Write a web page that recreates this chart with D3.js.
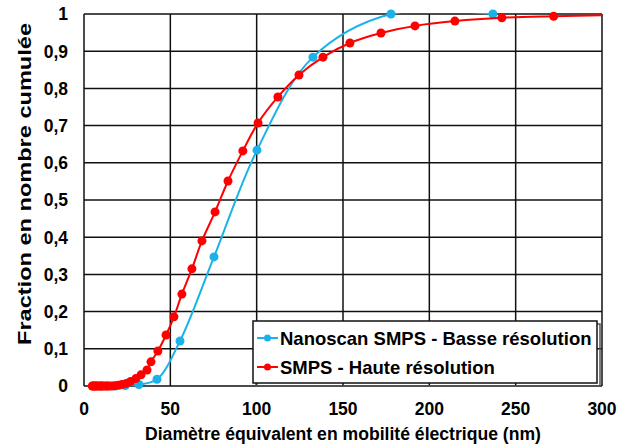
<!DOCTYPE html>
<html>
<head>
<meta charset="utf-8">
<script src="https://cdn.jsdelivr.net/npm/d3@7"></script>
<style>
  body { margin: 0; background: #fff; }
  text { font-family: "Liberation Sans", Arial, sans-serif; font-weight: bold; fill: #000; }
</style>
</head>
<body>
<div id="chart"></div>
<script>
// Nanoscan SMPS (basse résolution)
var nanoD = [10.1, 13.5, 18.0, 23.9, 31.8, 42.3, 55.6, 75.3, 100.2, 132.6, 177.8, 236.8];
var nanoF = [0, 0, 0, 0.001, 0.004, 0.018, 0.121, 0.347, 0.634, 0.884, 1.0, 1.0];

// SMPS (haute résolution)
var smpsD = [4.8, 5.3, 5.9, 6.5, 7.2, 8.0, 8.9, 9.8, 10.8, 12.0, 13.3, 14.7, 16.3, 18.0, 20.0, 22.0, 24.5, 27.0, 30.0, 33.0,
    36.5, 38.8, 42.8, 47.5, 52.1, 56.7, 62.5, 68.3, 75.9, 83.4, 92.0, 100.8, 112.3, 124.5, 138.4, 154.0, 172.0, 191.7,
    214.8, 242.0, 272.0, 305.0];
var smpsF = [0, 0, 0, 0, 0, 0, 0, 0, 0, 0, 0, 0, 0, 0.001, 0.002, 0.004, 0.007, 0.012, 0.02, 0.03,
    0.043, 0.065, 0.094, 0.137, 0.186, 0.247, 0.315, 0.39, 0.468, 0.551, 0.632, 0.707, 0.777, 0.836, 0.884, 0.922, 0.949, 0.968,
    0.981, 0.99, 0.994, 0.997];

var xTicks = [0, 50, 100, 150, 200, 250, 300];
var yTicks = [0, 0.1, 0.2, 0.3, 0.4, 0.5, 0.6, 0.7, 0.8, 0.9, 1];

var seriesNames = ["Nanoscan SMPS - Basse résolution", "SMPS - Haute résolution"];
var seriesColors = ["#1ab2e8", "#ff0000"];

var width = 617, height = 445;
var margin = {left: 84, right: 15, top: 14, bottom: 59};

var x = d3.scaleLinear().domain([0, 300]).range([margin.left, width - margin.right]);
var y = d3.scaleLinear().domain([0, 1]).range([height - margin.bottom, margin.top]);

var svg = d3.select("#chart").append("svg")
    .attr("width", width)
    .attr("height", height);

svg.append("defs").append("clipPath").attr("id", "plotclip")
    .append("rect")
    .attr("x", x(0)).attr("y", y(1) - 1)
    .attr("width", x(300) - x(0)).attr("height", y(0) - y(1) + 2);

// grid
var grid = svg.append("g").attr("stroke", "#111").attr("stroke-width", 1.5);
grid.selectAll(".vx").data(xTicks).join("line")
    .attr("x1", d => x(d)).attr("x2", d => x(d))
    .attr("y1", y(0)).attr("y2", y(1));
grid.selectAll(".hy").data(yTicks).join("line")
    .attr("x1", x(0)).attr("x2", x(300))
    .attr("y1", d => y(d)).attr("y2", d => y(d));

// axis labels
var fmt = d => String(d).replace(".", ",");
svg.append("g").selectAll("text").data(xTicks).join("text")
    .attr("x", d => x(d)).attr("y", 415)
    .attr("text-anchor", "middle")
    .style("font-size", "17.5px")
    .text(d => d);
svg.append("g").selectAll("text").data(yTicks).join("text")
    .attr("x", 68).attr("y", d => y(d))
    .attr("dy", "0.36em")
    .attr("text-anchor", "end")
    .style("font-size", "17.5px")
    .text(fmt);

svg.append("text")
    .attr("x", (x(0) + x(300)) / 2).attr("y", 440)
    .attr("text-anchor", "middle")
    .style("font-size", "17.6px")
    .text("Diamètre équivalent en mobilité électrique (nm)");
svg.append("text")
    .attr("transform", "translate(31,184) rotate(-90)")
    .attr("text-anchor", "middle")
    .style("font-size", "19px")
    .attr("textLength", 322)
    .attr("lengthAdjust", "spacingAndGlyphs")
    .text("Fraction en nombre cumulée");

// series
var series = [
    {d: nanoD, f: nanoF, color: seriesColors[0], r: 4.5},
    {d: smpsD, f: smpsF, color: seriesColors[1], r: 4.5}
];
var line = d3.line().x(p => x(p[0])).y(p => y(p[1])).curve(d3.curveCatmullRom.alpha(0.5));

series.forEach(s => {
    var pts = s.d.map((v, i) => [v, s.f[i]]);
    svg.append("path")
        .attr("clip-path", "url(#plotclip)")
        .attr("d", line(pts))
        .attr("fill", "none")
        .attr("stroke", s.color)
        .attr("stroke-width", 2);
    svg.append("g").selectAll("circle")
        .data(pts.filter(p => p[0] <= 300))
        .join("circle")
        .attr("cx", p => x(p[0])).attr("cy", p => y(p[1]))
        .attr("r", s.r)
        .attr("fill", s.color);
});

// legend
var lg = svg.append("g").attr("transform", "translate(253,321)");
lg.append("rect").attr("x", 3).attr("y", 3).attr("width", 344).attr("height", 62)
    .attr("fill", "none").attr("stroke", "#555").attr("stroke-width", 1.5);
lg.append("rect").attr("width", 344).attr("height", 62)
    .attr("fill", "#fff").attr("stroke", "#111").attr("stroke-width", 1.5);
seriesNames.forEach((name, i) => {
    var cy = 17 + i * 29;
    lg.append("line").attr("x1", 4).attr("x2", 25).attr("y1", cy).attr("y2", cy)
        .attr("stroke", seriesColors[i]).attr("stroke-width", 2);
    lg.append("circle").attr("cx", 14.5).attr("cy", cy).attr("r", 3.5).attr("fill", seriesColors[i]);
    lg.append("text").attr("x", 27).attr("y", cy).attr("dy", "0.36em")
        .style("font-size", "18.5px")
        .text(name);
});
</script>
</body>
</html>
